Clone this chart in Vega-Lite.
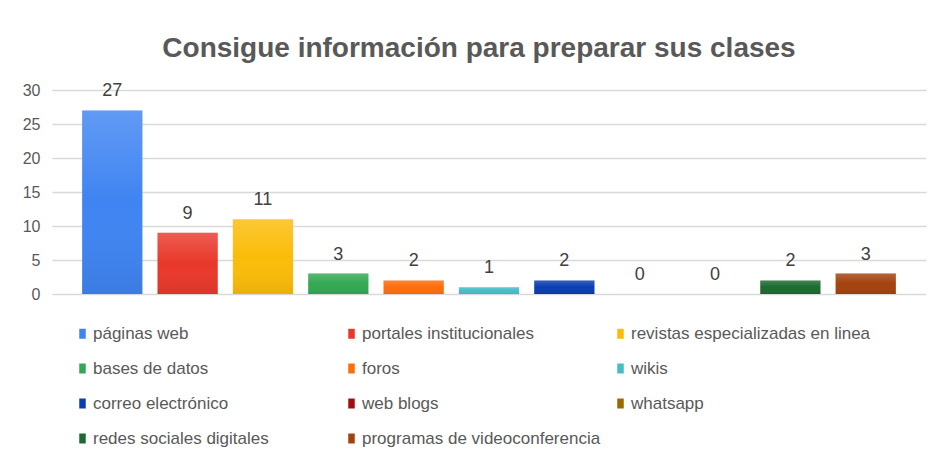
{
  "$schema": "https://vega.github.io/schema/vega-lite/v6.json",
  "width": 874,
  "height": 204,
  "autosize": {"type": "none"},
  "padding": {"left": 52, "top": 90, "right": 5, "bottom": 160},
  "background": "white",
  "title": {
    "text": "Consigue información para preparar sus clases",
    "font": "Liberation Sans",
    "fontSize": 28,
    "fontWeight": "bold",
    "color": "#595959",
    "anchor": "middle",
    "offset": 19,
    "dx": -10
  },
  "data": {
    "values": [
      {"medio": "páginas web", "valor": 27},
      {"medio": "portales institucionales", "valor": 9},
      {"medio": "revistas especializadas en linea", "valor": 11},
      {"medio": "bases de datos", "valor": 3},
      {"medio": "foros", "valor": 2},
      {"medio": "wikis", "valor": 1},
      {"medio": "correo electrónico", "valor": 2},
      {"medio": "web blogs", "valor": 0},
      {"medio": "whatsapp", "valor": 0},
      {"medio": "redes sociales digitales", "valor": 2},
      {"medio": "programas de videoconferencia", "valor": 3}
    ]
  },
  "encoding": {
    "x": {
      "field": "medio",
      "type": "nominal",
      "sort": null,
      "scale": {"paddingInner": 0.2, "paddingOuter": 0.4},
      "axis": null
    },
    "y": {
      "field": "valor",
      "type": "quantitative",
      "scale": {"domain": [0, 30]},
      "axis": {
        "title": null,
        "values": [0, 5, 10, 15, 20, 25, 30],
        "ticks": false,
        "domain": false,
        "labelFont": "Liberation Sans",
        "labelFontSize": 16,
        "labelColor": "#595959",
        "labelPadding": 12,
        "gridColor": "#d9d9d9",
        "gridWidth": 1.5
      }
    }
  },
  "layer": [
    {
      "mark": {"type": "bar"},
      "encoding": {
        "color": {
          "field": "medio",
          "type": "nominal",
          "sort": null,
          "scale": {
            "domain": ["páginas web", "portales institucionales", "revistas especializadas en linea", "bases de datos", "foros", "wikis", "correo electrónico", "web blogs", "whatsapp", "redes sociales digitales", "programas de videoconferencia"],
            "range": ["#3f84f2", "#e9382b", "#fbbc09", "#33a853", "#ff6d0a", "#46bdc6", "#0a3db0", "#a01010", "#9a6a00", "#1c6a31", "#a3420d"]
          },
          "legend": {
            "title": null,
            "orient": "none",
            "legendX": 22,
            "legendY": 235,
            "direction": "horizontal",
            "columns": 3,
            "gridAlign": "all",
            "columnPadding": 10,
            "rowPadding": 17,
            "symbolType": "M-0.65,-1H0.65V1H-0.65Z",
            "symbolSize": 100,
            "symbolStrokeWidth": 0,
            "labelFont": "Liberation Sans",
            "labelFontSize": 17,
            "labelColor": "#595959",
            "labelOffset": 2,
            "labelLimit": 400
          }
        }
      }
    },
    {
      "mark": {
        "type": "bar",
        "color": {
          "gradient": "linear",
          "x1": 0, "y1": 0, "x2": 0, "y2": 1,
          "stops": [
            {"offset": 0, "color": "rgba(255,255,255,0.18)"},
            {"offset": 0.5, "color": "rgba(255,255,255,0)"},
            {"offset": 1, "color": "rgba(0,0,0,0.07)"}
          ]
        }
      }
    },
    {
      "mark": {
        "type": "text",
        "baseline": "bottom",
        "dy": -10,
        "font": "Liberation Sans",
        "fontSize": 18,
        "color": "#404040"
      },
      "encoding": {"text": {"field": "valor", "type": "quantitative"}}
    }
  ],
  "config": {"view": {"stroke": null}}
}
